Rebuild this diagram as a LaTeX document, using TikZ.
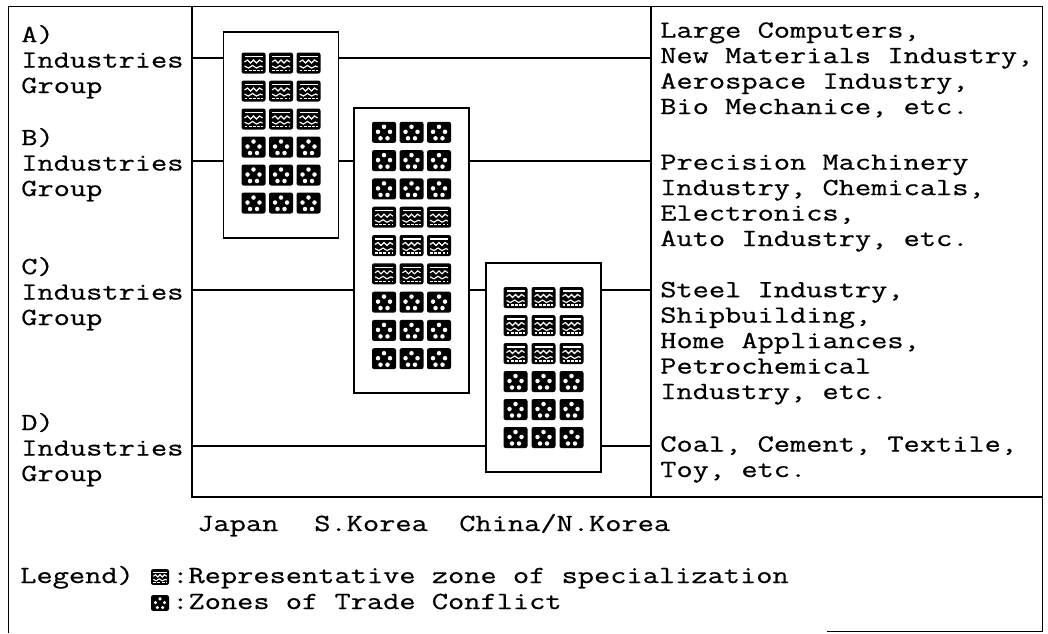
\documentclass[tikz,border=0pt]{standalone}
\usepackage{fontspec}
\setmonofont{Latin Modern Mono}[FakeStretch=1.28, FakeBold=0.6]
\usepackage{tikz}

\begin{document}
\begin{tikzpicture}[x=0.025cm, y=-0.025cm,
    frame/.style={line width=0.7pt},
    chart/.style={line width=1.3pt},
    zonebox/.style={draw, line width=1.2pt, minimum width=2.875cm, inner sep=0pt},
    lab/.style={font=\ttfamily\fontsize{17.5}{18.1}\selectfont, align=left, inner sep=0pt, anchor=base west},
    spec/.pic={
        \fill[rounded corners=1.5pt] (-12,-10.5) rectangle (12,10.5);
        \draw[white, line width=0.9pt] (-9,-6.5) -- (9,-6.5);
        \draw[white, line width=0.8pt] (-9,-1) -- (-6,-3) -- (-3,0) -- (0,-3) -- (3,0) -- (6,-3) -- (9,-1);
        \draw[white, line width=0.8pt] (-9,3) -- (-5,5) -- (-1,2.5) -- (3,5) -- (7,3) -- (9,4);
        \draw[white, line width=0.9pt, dash pattern=on 2pt off 1pt] (-9,7.5) -- (9,7.5);
    },
    conf/.pic={
        \fill[rounded corners=1.5pt] (-12,-10.5) rectangle (12,10.5);
        \fill[white] (0,-5.5) circle[radius=1.6pt] (-6,-0.5) circle[radius=1.6pt] (6,-0.5) circle[radius=1.6pt]
            (-3.5,6) circle[radius=1.6pt] (3.5,6) circle[radius=1.6pt];
    }]
    \useasboundingbox (0,0) rectangle (1048,633);

    \draw[frame] (8,633) -- (8,6) -- (1042,6) -- (1042,631) -- (827,631);
    \draw[chart] (192,6) -- (192,497) -- (1042,497);
    \draw[chart] (651,6) -- (651,497);

    \node (japan) [zonebox, minimum height=5.15cm] at (281,135) {};
    \node (skorea) [zonebox, minimum height=7.125cm] at (411.5,250.5) {};
    \node (china) [zonebox, minimum height=5.225cm] at (543.5,367.5) {};

    \foreach \r/\k in {1/spec,2/spec,3/spec,4/conf,5/conf,6/conf}
        \foreach \c in {-1,0,1}
            \path (japan.center) ++(\c*27.5,{(\r-3.5)*28-2}) pic {\k};
    \foreach \r/\k in {1/conf,2/conf,3/conf,4/spec,5/spec,6/spec,7/conf,8/conf,9/conf}
        \foreach \c in {-1,0,1}
            \path (skorea.center) ++(\c*27.5,{(\r-5)*28.3-5}) pic {\k};
    \foreach \r/\k in {1/spec,2/spec,3/spec,4/conf,5/conf,6/conf}
        \foreach \c in {-1,0,1}
            \path (china.center) ++(\c*28,{(\r-3.5)*28}) pic {\k};

    \coordinate (aL) at (192,58);
    \coordinate (aR) at (651,58);
    \coordinate (bL) at (192,161);
    \coordinate (bR) at (651,161);
    \coordinate (cL) at (192,290);
    \coordinate (cR) at (651,290);
    \coordinate (dL) at (192,446);
    \coordinate (dR) at (651,446);

    \draw[chart] (aL) -- (aL -| japan.west);
    \draw[chart] (aL -| japan.east) -- (aR);
    \draw[chart] (bL) -- (bL -| japan.west);
    \draw[chart] (bL -| japan.east) -- (bL -| skorea.west);
    \draw[chart] (bL -| skorea.east) -- (bR);
    \draw[chart] (cL) -- (cL -| skorea.west);
    \draw[chart] (cL -| skorea.east) -- (cL -| china.west);
    \draw[chart] (cL -| china.east) -- (cR);
    \draw[chart] (dL) -- (dL -| china.west);
    \draw[chart] (dL -| china.east) -- (dR);

    \node (grpA) [lab] at (21,93) {A)\\Industries\\Group};
    \node (grpB) [lab] at (21,196) {B)\\Industries\\Group};
    \node (grpC) [lab] at (21,325) {C)\\Industries\\Group};
    \node (grpD) [lab] at (21,481) {D)\\Industries\\Group};

    \node (indA) [lab] at (660,114) {Large Computers,\\New Materials Industry,\\Aerospace Industry,\\Bio Mechanice, etc.};
    \node (indB) [lab] at (660,246) {Precision Machinery\\Industry, Chemicals,\\Electronics,\\Auto Industry, etc.};
    \node (indC) [lab] at (660,399) {Steel Industry,\\Shipbuilding,\\Home Appliances,\\Petrochemical\\Industry, etc.};
    \node (indD) [lab] at (660,477) {Coal, Cement, Textile,\\Toy, etc.};

    \node (japanlab) [lab] at (197,531) {Japan};
    \node (korealab) [lab] at (314,531) {S.Korea};
    \node (chinalab) [lab] at (459,531) {China/N.Korea};

    \node (legend) [lab] at (20,583) {Legend)};
    \path (160,577) pic[scale=0.75] {spec};
    \node (legspec) [lab] at (172,583) {:Representative zone of specialization};
    \path (160,603) pic[scale=0.75] {conf};
    \node (legconf) [lab] at (172,609) {:Zones of Trade Conflict};
\end{tikzpicture}
\end{document}
